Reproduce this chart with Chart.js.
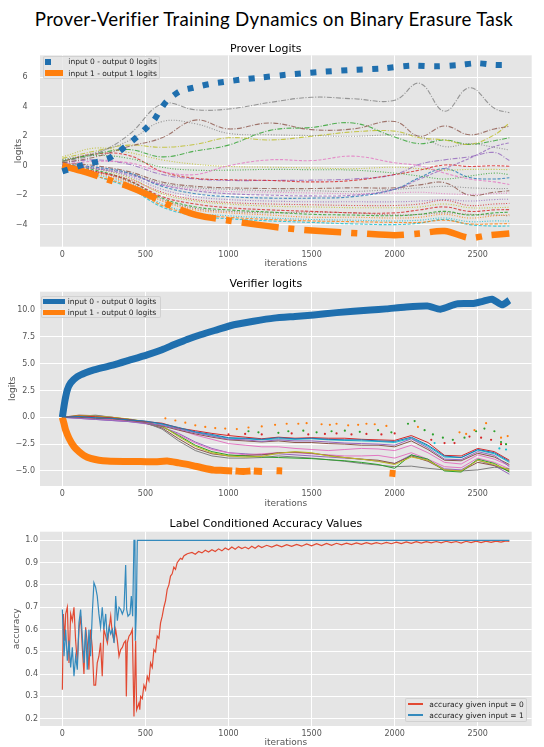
<!DOCTYPE html>
<html>
<head>
<meta charset="utf-8">
<script src="https://cdn.jsdelivr.net/npm/chart.js@4.4.1/dist/chart.umd.min.js"></script>
<style>
  body { margin: 0; width: 544px; height: 747px; overflow: hidden; position: relative; background: #fff; font-family: "DejaVu Sans", sans-serif; }
  canvas { position: absolute; left: 0; }
  #title { position: absolute; left: 2px; top: 8px; width: 544px; text-align: center; font: 18.7px/1.2 Lato, "Open Sans", sans-serif; color: #000; white-space: nowrap; }
  .legend { position: absolute; background: rgba(229,229,229,0.8); border: 1px solid rgba(204,204,204,0.8); border-radius: 2px; box-sizing: border-box; z-index: 2; }
  .swatch { position: absolute; z-index: 3; }
  .ltext { position: absolute; z-index: 3; font-size: 7.5px; line-height: 9px; color: #222; white-space: nowrap; }
</style>
</head>
<body>
<div id="title"><span id="titleText"></span></div>
<canvas id="prover" width="544" height="231" style="top:38px"></canvas>
<canvas id="verifier" width="544" height="233" style="top:276px"></canvas>
<canvas id="accuracy" width="544" height="232" style="top:516px"></canvas>
<script>
const MAIN_TITLE = 'Prover-Verifier Training Dynamics on Binary Erasure Task';
const ITER_TICKS = [0, 500, 1000, 1500, 2000, 2500];
const PROVER_Y_TICKS = [-4, -2, 0, 2, 4, 6];
const VERIFIER_Y_TICKS = [-5, -2.5, 0, 2.5, 5, 7.5, 10];
const ACC_Y_TICKS = [0.2, 0.3, 0.4, 0.5, 0.6, 0.7, 0.8, 0.9, 1.0];

const PROVER_LABELS = ['input 0 - output 0 logits', 'input 1 - output 1 logits'];
const VERIFIER_LABELS = ['input 0 - output 0 logits', 'input 1 - output 0 logits'];
const ACC_LABELS = ['accuracy given input = 0', 'accuracy given input = 1'];

// prover main series, [iteration, logit]
const PROVER_IN0_OUT0 = [[0,-0.38],[130,0.07],[270,0.45],[340,0.95],[390,1.4],[450,1.96],[500,2.5],[550,3.07],[590,3.8],[630,4.4],[710,5.07],[790,5.3],[890,5.56],[970,5.69],[1070,5.84],[1170,5.96],[1350,6.18],[1540,6.36],[1740,6.5],[1920,6.6],[2100,6.8],[2250,6.75],[2385,6.84],[2495,6.96],[2600,6.85],[2690,6.84]];
const PROVER_IN1_OUT1 = [[0,0.0],[130,-0.4],[270,-0.93],[390,-1.38],[530,-2.04],[670,-2.8],[810,-3.35],[990,-3.7],[1170,-4.0],[1350,-4.25],[1550,-4.44],[1800,-4.6],[2000,-4.72],[2150,-4.6],[2300,-4.44],[2450,-4.9],[2550,-4.75],[2690,-4.6]];

// prover thin lines, sampled on a common iteration grid
const PROVER_GRID = [0, 200, 400, 600, 800, 1000, 1250, 1500, 1750, 2000, 2150, 2300, 2450, 2600, 2690];
const PROVER_THIN = [
  [0.3, 0.8, 2.1, 4.2, 3.8, 3.85, 4.3, 4.65, 4.55, 4.45, 5.6, 3.7, 5.3, 3.9, 3.6],
  [0.2, 0.6, 1.3, 1.9, 3.1, 2.5, 2.9, 2.45, 2.5, 3.0, 2.0, 2.7, 2.1, 2.5, 2.67],
  [0.4, 0.9, 1.7, 3.0, 2.85, 2.2, 2.1, 2.05, 2.0, 2.1, 2.0, 1.3, 1.5, 1.25, 1.07],
  [0.5, 1.0, 1.4, 1.25, 1.45, 1.9, 1.75, 2.0, 2.3, 2.35, 1.9, 1.75, 1.45, 2.1, 2.9],
  [0.3, 0.8, 1.1, 0.6, 1.0, 1.4, 2.4, 2.6, 2.9, 1.95, 1.5, 1.75, 1.45, 1.7, 1.9],
  [0.1, 0.3, 0.2, -0.4, -0.6, 0.0, 0.4, 0.35, 0.65, 0.2, 0.0, -0.5, -0.9, -1.1, -1.27],
  [0.6, 1.2, 0.9, 0.4, 0.1, -0.05, -0.1, -0.15, -0.2, -0.1, -0.2, -0.3, -0.25, -0.25, -0.27],
  [0.4, 0.7, 0.5, -0.1, -0.3, -0.3, -0.25, -0.27, -0.3, -0.5, -0.7, -0.9, -0.7, -0.5, -0.6],
  [0.3, 0.8, 0.7, -0.4, -0.85, -0.95, -1.0, -1.1, -1.0, -0.6, -0.3, 0.05, -0.05, 0.0, -0.04],
  [0.2, 0.4, 0.1, -0.6, -0.9, -1.0, -1.0, -0.98, -0.9, -0.6, 0.1, 0.4, 0.6, 0.9, 0.35],
  [0.0, -0.2, -0.6, -1.3, -1.7, -1.9, -2.0, -2.05, -2.0, -1.6, -0.9, -0.2, 0.5, 1.3, 1.55],
  [0.1, -0.1, -0.5, -1.4, -1.9, -2.1, -2.2, -2.2, -2.1, -1.6, -0.8, -0.2, -0.8, -0.9, -0.82],
  [0.2, 0.0, -0.4, -1.1, -1.4, -1.5, -1.55, -1.55, -1.5, -1.5, -1.3, -1.15, -2.0, -1.8, -1.7],
  [0.0, -0.2, -0.5, -1.2, -1.5, -1.6, -1.7, -1.7, -1.75, -1.6, -1.5, -1.4, -1.5, -1.55, -1.55],
  [0.1, -0.1, -0.5, -1.3, -1.6, -1.75, -1.8, -1.85, -1.9, -1.85, -1.8, -1.9, -1.95, -1.9, -1.85],
  [0.1, -0.2, -0.7, -1.6, -2.1, -2.3, -2.4, -2.45, -2.45, -2.45, -2.4, -2.3, -2.4, -2.3, -2.27],
  [-0.1, -0.4, -0.9, -1.8, -2.3, -2.5, -2.6, -2.65, -2.7, -2.7, -2.6, -2.35, -2.7, -2.6, -2.56],
  [0.2, -0.2, -0.8, -1.9, -2.4, -2.6, -2.75, -2.8, -2.85, -2.85, -2.8, -2.6, -2.85, -2.85, -2.82],
  [0.0, -0.4, -1.0, -2.1, -2.6, -2.85, -3.0, -3.1, -3.2, -3.2, -3.0, -2.8, -3.1, -3.0, -2.98],
  [0.1, -0.3, -1.0, -2.2, -2.8, -3.0, -3.15, -3.3, -3.35, -3.4, -3.3, -3.1, -3.35, -3.2, -3.16],
  [-0.1, -0.5, -1.2, -2.4, -3.0, -3.2, -3.35, -3.5, -3.5, -3.55, -3.5, -3.3, -3.55, -3.4, -3.33],
  [0.0, -0.4, -1.1, -2.3, -2.9, -3.1, -3.2, -3.15, -3.2, -3.35, -3.3, -3.2, -3.3, -3.35, -3.4],
  [-0.2, -0.6, -1.3, -2.6, -3.2, -3.4, -3.55, -3.65, -3.7, -3.75, -3.7, -3.55, -3.8, -3.75, -3.76],
  [-0.2, -0.7, -1.4, -2.7, -3.3, -3.5, -3.65, -3.75, -3.8, -3.85, -3.85, -3.7, -3.95, -3.95, -3.93],
  [-0.1, -0.7, -1.5, -2.8, -3.4, -3.6, -3.75, -3.85, -3.95, -4.0, -3.9, -3.65, -4.0, -4.1, -4.09]
];

// verifier main series
const VERIFIER_IN0_OUT0 = [[0,0],[15,1.5],[30,2.55],[50,3.2],[90,3.79],[140,4.15],[190,4.41],[250,4.65],[310,4.88],[400,5.3],[510,5.82],[600,6.3],[670,6.75],[750,7.25],[832,7.69],[930,8.15],[1032,8.62],[1150,8.95],[1273,9.24],[1400,9.4],[1513,9.54],[1650,9.75],[1854,10.0],[1950,10.1],[2057,10.26],[2197,10.37],[2275,10.07],[2375,10.57],[2475,10.6],[2530,10.8],[2585,11.0],[2646,10.48],[2690,10.9]];
const VERIFIER_IN1_OUT0 = [[0,0],[10,-0.6],[20,-1.2],[40,-1.95],[70,-2.74],[100,-3.2],[130,-3.55],[170,-3.83],[220,-4.0],[270,-4.08],[370,-4.12],[471,-4.12],[560,-4.15],[631,-4.08],[700,-4.25],[772,-4.45],[840,-4.7],[912,-4.92],[970,-4.95],[1022,-5.0],[1032,null],[1042,-5.0],[1090,-5.05],[1132,-5.0],[1142,null],[1152,-5.0],[1202,-5.05],[1250,null],[1289,-4.98],[1323,-5.0],[1400,null],[1969,-5.2],[2005,-5.25]];

// verifier thin lines on a common grid
const VERIFIER_GRID = [0,100,200,300,400,500,600,700,800,900,1000,1100,1200,1300,1400,1500,1600,1700,1800,1900,2000,2100,2200,2300,2400,2500,2600,2690];
const VERIFIER_THIN = [
  [0.0,0.08,-0.05,-0.1,-0.25,-0.35,-0.6,-0.95,-1.35,-1.6,-1.9,-1.95,-2.05,-1.9,-2.0,-1.95,-2.05,-2.1,-2.1,-2.2,-2.25,-1.85,-2.6,-3.6,-3.75,-3.0,-3.3,-4.1],
  [0.0,0.12,0.05,-0.05,-0.2,-0.4,-0.55,-1.0,-1.25,-1.5,-1.7,-1.85,-2.0,-1.85,-1.95,-1.9,-1.95,-1.95,-2.05,-2.1,-2.15,-1.7,-2.35,-3.55,-3.6,-2.9,-3.2,-4.0],
  [0.0,-0.1,-0.2,-0.3,-0.4,-0.55,-0.75,-1.1,-1.45,-1.75,-2.05,-2.1,-2.25,-2.1,-2.2,-2.2,-2.3,-2.4,-2.45,-2.5,-2.6,-2.0,-2.85,-3.9,-3.95,-3.2,-3.55,-4.6],
  [0.0,0.0,-0.1,-0.15,-0.3,-0.5,-0.8,-1.2,-1.55,-1.85,-2.1,-2.2,-2.3,-2.2,-2.35,-2.35,-2.45,-2.5,-2.6,-2.6,-2.75,-2.2,-3.0,-4.0,-4.05,-3.35,-3.7,-4.4],
  [0.0,0.05,0.0,-0.1,-0.2,-0.4,-0.65,-1.05,-1.4,-1.7,-1.95,-2.0,-2.1,-2.0,-2.05,-2.0,-2.1,-2.15,-2.2,-2.25,-2.35,-1.95,-2.7,-3.7,-3.75,-3.05,-3.4,-4.2],
  [0.0,-0.05,-0.15,-0.25,-0.35,-0.5,-0.7,-1.15,-1.65,-2.05,-2.45,-2.6,-2.75,-2.75,-2.9,-3.0,-3.1,-3.0,-2.9,-2.95,-3.1,-2.6,-3.3,-4.2,-4.35,-3.5,-3.9,-4.5],
  [0.0,0.15,0.1,0.0,-0.15,-0.4,-0.8,-1.8,-2.7,-3.3,-3.6,-3.7,-3.65,-3.35,-3.2,-3.3,-3.6,-3.75,-3.9,-4.1,-4.4,-3.7,-4.0,-4.9,-5.0,-4.0,-4.4,-4.9],
  [0.0,0.1,0.05,-0.05,-0.2,-0.45,-0.85,-1.7,-2.6,-3.2,-3.5,-3.6,-3.7,-3.75,-3.8,-3.85,-3.95,-4.05,-4.2,-4.4,-4.75,-3.5,-3.9,-5.0,-5.1,-3.9,-4.3,-5.1],
  [0.0,0.1,0.2,0.0,-0.2,-0.5,-1.1,-2.2,-3.1,-3.6,-3.8,-3.8,-3.75,-3.6,-3.7,-3.8,-3.95,-4.1,-4.3,-4.45,-4.6,-4.55,-4.75,-4.9,-5.0,-4.9,-4.65,-4.8],
  [0.0,0.2,0.15,0.0,-0.2,-0.55,-1.0,-2.0,-2.9,-3.4,-3.6,-3.55,-3.5,-3.3,-3.25,-3.35,-3.55,-3.75,-3.9,-4.0,-4.3,-3.6,-4.1,-4.9,-5.0,-4.2,-4.5,-5.0],
  [0.0,0.0,-0.1,-0.2,-0.35,-0.55,-0.9,-1.6,-2.4,-3.0,-3.3,-3.5,-3.4,-3.3,-3.3,-3.4,-3.5,-3.6,-3.6,-3.55,-3.8,-3.3,-3.9,-4.6,-4.7,-3.8,-4.2,-4.8],
  [0.0,-0.1,-0.2,-0.3,-0.4,-0.6,-0.9,-1.5,-2.3,-2.9,-3.3,-3.4,-3.5,-3.4,-3.5,-3.6,-3.7,-3.8,-3.9,-4.1,-4.3,-3.5,-4.0,-4.8,-4.9,-4.0,-4.5,-5.3]
];
// verifier sparse marker series
const VERIFIER_DOTS_A = [[620,-0.1],[680,-0.3],[740,-0.5],[800,-0.75],[860,-0.9],[920,-1.0],[980,-1.05],[1050,-1.1],[1120,-0.95],[1200,-0.85],[1280,-0.7],[1350,-0.6],[1420,-0.6],[1470,-0.55],[1560,-0.65],[1610,-0.7],[1650,-0.6],[1720,-0.75],[1780,-0.7],[1830,-0.6],[1880,-0.65],[1950,-0.8],[2140,-0.9],[2390,-1.4],[2430,-1.55],[2480,-1.2],[2550,-0.55],[2640,-1.9],[2680,-1.75]];
const VERIFIER_DOTS_B = [[1120,-1.3],[1180,-1.4],[1300,-1.45],[1360,-1.3],[1450,-1.25],[1530,-1.4],[1620,-1.3],[1700,-1.25],[1790,-1.35],[1900,-1.2],[1980,-1.4],[2080,-0.6],[2120,-0.35],[2180,-1.2],[2230,-1.6],[2290,-1.9],[2350,-2.1],[2420,-1.9],[2490,-1.3],[2540,-1.05],[2600,-1.3],[2640,-2.3],[2670,-2.5]];
const VERIFIER_DOTS_C = [[1000,-1.6],[1100,-1.55],[1200,-1.6],[1380,-1.5],[1480,-1.6],[1580,-1.55],[1650,-1.5],[1740,-1.6],[1830,-1.55],[1920,-1.6],[2000,-1.5],[2220,-2.1],[2300,-2.4],[2360,-2.4],[2450,-1.8],[2520,-1.9],[2580,-2.1],[2640,-2.5]];
const VERIFIER_DOTS_D = [[2240,-2.4],[2630,-2.9],[2670,-3.0]];

// accuracy series
const ACC_INPUT0 = [[0,0.33],[6,0.67],[14,0.55],[20,0.67],[30,0.70],[40,0.45],[50,0.67],[60,0.64],[70,0.70],[80,0.55],[90,0.45],[100,0.60],[110,0.66],[120,0.52],[130,0.40],[140,0.61],[150,0.54],[160,0.42],[170,0.60],[180,0.52],[190,0.35],[200,0.35],[210,0.45],[220,0.48],[230,0.54],[240,0.39],[250,0.60],[261,0.57],[271,0.54],[281,0.60],[291,0.66],[301,0.58],[311,0.55],[321,0.60],[331,0.55],[341,0.48],[351,0.51],[361,0.52],[371,0.54],[381,0.55],[385,0.30],[391,0.54],[401,0.57],[411,0.58],[421,0.60],[431,0.21],[441,0.55],[447,0.24],
  [461,0.27],[466,0.24],[471,0.30],[481,0.29],[491,0.35],[501,0.33],[511,0.39],[521,0.37],[531,0.45],[541,0.43],[551,0.51],[561,0.50],[571,0.57],[581,0.56],[591,0.63],[601,0.66],[611,0.70],[621,0.73],[631,0.78],[641,0.80],[651,0.84],[661,0.85],[671,0.88],[681,0.87],[691,0.90],[701,0.91],[711,0.92],[721,0.915],[731,0.93],[741,0.935],[752,0.94],
  [780,0.946],[800,0.938],[820,0.95],[840,0.944],[860,0.956],[880,0.948],[900,0.958],[920,0.95],[940,0.962],[960,0.953],[980,0.966],[1000,0.958],[1020,0.97],[1040,0.96],[1060,0.972],[1080,0.963],[1100,0.97],[1120,0.962],[1140,0.974],[1160,0.965],[1180,0.976],[1200,0.968],[1230,0.978],[1260,0.97],[1290,0.98],[1320,0.971],[1350,0.981],[1380,0.973],[1410,0.982],[1440,0.974],[1470,0.984],[1500,0.976],[1530,0.985],[1560,0.977],[1590,0.986],[1620,0.978],[1650,0.987],[1680,0.98],[1710,0.988],[1740,0.981],[1770,0.989],[1800,0.982],[1830,0.99],[1860,0.983],[1890,0.99],[1920,0.984],[1950,0.991],[1980,0.985],[2010,0.992],[2040,0.986],[2070,0.993],[2100,0.987],[2130,0.994],[2160,0.988],[2190,0.994],[2220,0.989],[2250,0.995],[2280,0.989],[2310,0.996],[2340,0.99],[2370,0.995],[2400,0.988],[2430,0.996],[2460,0.99],[2490,0.997],[2520,0.99],[2550,0.997],[2580,0.991],[2610,0.997],[2640,0.992],[2670,0.998],[2690,0.996]];
const ACC_INPUT1 = [[0,0.69],[10,0.48],[20,0.60],[30,0.46],[40,0.55],[50,0.43],[60,0.52],[70,0.39],[80,0.48],[90,0.42],[100,0.63],[110,0.69],[120,0.57],[130,0.45],[140,0.60],[150,0.42],[160,0.60],[170,0.48],[180,0.67],[190,0.81],[200,0.79],[210,0.75],[220,0.67],[230,0.61],[240,0.70],[250,0.60],[261,0.67],[271,0.55],[281,0.61],[291,0.58],[301,0.60],[311,0.54],[321,0.75],[331,0.64],[341,0.70],[351,0.69],[361,0.67],[371,0.69],[381,0.89],[387,0.69],[395,0.66],[407,0.67],[415,0.75],[423,0.66],[431,1.0],[437,1.0],[439,0.55],[445,0.67],[451,1.0],[2690,1.0]];

const X_MIN = -134.5, X_MAX = 2824.5;
const DASH = { dashed: [3.2, 1.6], dotted: [1, 1.6], dashdot: [5, 1.6, 1, 1.6] };
const PROVER_THIN_STYLE = [
  ['#7f7f7f','dashdot'],['#8c564b','dashdot'],['#7f7f7f','dotted'],['#bcbd22','dashdot'],['#2ca02c','dashdot'],
  ['#e377c2','dashed'],['#bcbd22','dotted'],['#2ca02c','dotted'],['#d62728','dashed'],['#9467bd','dashdot'],
  ['#9467bd','dashed'],['#1f77b4','dashed'],['#8c564b','dashdot'],['#7f7f7f','dotted'],['#e377c2','dotted'],
  ['#9467bd','dotted'],['#d62728','dotted'],['#bcbd22','dotted'],['#d62728','dashed'],['#2ca02c','dashed'],
  ['#ff7f0e','dotted'],['#8c564b','dotted'],['#17becf','dotted'],['#ff7f0e','dashed'],['#17becf','dashed']
];
const VERIFIER_THIN_COLORS = ['#1f77b4','#d62728','#9467bd','#8c564b','#17becf','#e377c2','#bcbd22','#2ca02c','#7f7f7f','#8c564b','#e377c2','#9467bd'];

Chart.defaults.font.family = '"DejaVu Sans", sans-serif';
Chart.defaults.animation = false;

const plotBg = {
  id: 'plotBg',
  beforeDraw(chart) {
    const a = chart.chartArea, ctx = chart.ctx;
    ctx.save();
    ctx.fillStyle = '#e5e5e5';
    ctx.fillRect(a.left, a.top, a.right - a.left, a.bottom - a.top);
    ctx.restore();
  }
};

const pairs = arr => arr.map(p => ({ x: p[0], y: p[1] }));
const onGrid = (xs, ys) => xs.map((x, i) => ({ x, y: ys[i] }));
const minus = s => s.replace('-', '\u2212');

function options(cfg) {
  return {
    responsive: false,
    layout: { padding: { left: 0, right: 12.3, top: 0, bottom: 0 } },
    elements: { point: { radius: 0 } },
    plugins: {
      legend: { display: false },
      tooltip: { enabled: false },
      title: { display: true, text: cfg.title, color: '#000', font: { size: 11, weight: 'normal', lineHeight: 1 }, padding: { top: 3, bottom: cfg.titleGap } }
    },
    scales: {
      x: {
        type: 'linear', min: X_MIN, max: X_MAX,
        grid: { color: '#ffffff', lineWidth: 1, drawTicks: false },
        border: { display: false },
        afterBuildTicks: s => { s.ticks = ITER_TICKS.map(v => ({ value: v })); },
        ticks: { color: '#555', font: { size: 8 }, padding: 3, maxRotation: 0, callback: v => String(v) },
        title: { display: true, text: 'iterations', color: '#555', font: { size: 9 }, padding: 0 },
        afterFit: s => { s.height = cfg.xh; }
      },
      y: {
        min: cfg.yMin, max: cfg.yMax,
        grid: { color: '#ffffff', lineWidth: 1, drawTicks: false },
        border: { display: false },
        afterBuildTicks: s => { s.ticks = cfg.yTicks.map(v => ({ value: v })); },
        ticks: { color: '#555', font: { size: 8 }, padding: cfg.yPad, callback: cfg.fmt },
        title: { display: true, text: cfg.yTitle, color: '#555', font: { size: 9 }, padding: { top: cfg.yTitlePad, bottom: 0 } },
        afterFit: s => { s.width = 40; }
      }
    }
  };
}

// prover chart
const proverSets = [
  { label: PROVER_LABELS[0], data: pairs(PROVER_IN0_OUT0), borderColor: '#1f6fae', borderWidth: 6, borderDash: [6, 9.5], tension: 0.3 },
  { label: PROVER_LABELS[1], data: pairs(PROVER_IN1_OUT1), borderColor: '#ff7f0e', borderWidth: 6.5, borderDash: [37, 10, 6, 10], tension: 0.3 }
];
PROVER_THIN.forEach((ys, i) => {
  const st = PROVER_THIN_STYLE[i];
  proverSets.push({ label: 'p' + i, data: onGrid(PROVER_GRID, ys), borderColor: st[0] + 'cc', borderWidth: 1.1, borderDash: DASH[st[1]], tension: 0.4 });
});
new Chart(document.getElementById('prover'), {
  type: 'line',
  data: { datasets: proverSets },
  options: options({ title: 'Prover Logits', titleGap: 0.7, xh: 22.3, yMin: -5.5, yMax: 7.5, yTicks: PROVER_Y_TICKS, yPad: 12.5, yTitle: 'logits', yTitlePad: 13.6, fmt: v => minus(String(v)) }),
  plugins: [plotBg]
});

// verifier chart
const verifierSets = [
  { label: VERIFIER_LABELS[0], data: pairs(VERIFIER_IN0_OUT0), borderColor: '#1f6fae', borderWidth: 7, borderJoinStyle: 'round', tension: 0.2 },
  { label: VERIFIER_LABELS[1], data: pairs(VERIFIER_IN1_OUT0), borderColor: '#ff7f0e', borderWidth: 7, borderJoinStyle: 'round', tension: 0.2, spanGaps: false }
];
VERIFIER_THIN.forEach((ys, i) => {
  verifierSets.push({ label: 'v' + i, data: onGrid(VERIFIER_GRID, ys), borderColor: VERIFIER_THIN_COLORS[i], borderWidth: 1, tension: 0 });
});
[[VERIFIER_DOTS_A, '#ff7f0e'], [VERIFIER_DOTS_B, '#2ca02c'], [VERIFIER_DOTS_C, '#d62728'], [VERIFIER_DOTS_D, '#17becf']].forEach(([d, c], i) => {
  verifierSets.push({ label: 'd' + i, data: pairs(d), showLine: false, pointRadius: 1.1, pointBackgroundColor: c, pointBorderWidth: 0 });
});
new Chart(document.getElementById('verifier'), {
  type: 'line',
  data: { datasets: verifierSets },
  options: options({ title: 'Verifier logits', titleGap: 1.7, xh: 23, yMin: -6.4, yMax: 11.7, yTicks: VERIFIER_Y_TICKS, yPad: 5, yTitle: 'logits', yTitlePad: 7.1, fmt: v => minus(v.toFixed(1)) }),
  plugins: [plotBg]
});

// accuracy chart
new Chart(document.getElementById('accuracy'), {
  type: 'line',
  data: { datasets: [
    { label: ACC_LABELS[0], data: pairs(ACC_INPUT0), borderColor: '#e24a33', borderWidth: 1.2, order: 1, tension: 0 },
    { label: ACC_LABELS[1], data: pairs(ACC_INPUT1), borderColor: '#348abd', borderWidth: 1.2, order: 0, tension: 0 }
  ] },
  options: options({ title: 'Label Conditioned Accuracy Values', titleGap: 1.7, xh: 22, yMin: 0.167, yMax: 1.039, yTicks: ACC_Y_TICKS, yPad: 2, yTitle: 'accuracy', yTitlePad: 11.6, fmt: v => v.toFixed(1) }),
  plugins: [plotBg]
});

// html legends
function addLegend(frame, items) {
  const box = document.createElement('div');
  box.className = 'legend';
  Object.assign(box.style, { left: frame[0] + 'px', top: frame[1] + 'px', width: frame[2] + 'px', height: frame[3] + 'px' });
  document.body.appendChild(box);
  items.forEach(it => {
    const sw = document.createElement('div');
    sw.className = 'swatch';
    Object.assign(sw.style, { left: it.s[0] + 'px', top: it.s[1] + 'px', width: it.s[2] + 'px', height: it.s[3] + 'px', background: it.color });
    document.body.appendChild(sw);
    const tx = document.createElement('span');
    tx.className = 'ltext';
    tx.textContent = it.label;
    Object.assign(tx.style, { left: it.t[0] + 'px', top: (it.t[1] - 4.5) + 'px' });
    document.body.appendChild(tx);
  });
}
addLegend([43, 56, 117, 22.5], [
  { label: PROVER_LABELS[0], color: '#1f6fae', s: [45, 58.5, 6, 6.3], t: [68.3, 61.7] },
  { label: PROVER_LABELS[1], color: '#ff7f0e', s: [45, 70, 17.7, 5.7], t: [68.3, 73] }
]);
addLegend([41, 296, 120, 22], [
  { label: VERIFIER_LABELS[0], color: '#1f6fae', s: [43.3, 299, 21.7, 5.3], t: [67.7, 301.8] },
  { label: VERIFIER_LABELS[1], color: '#ff7f0e', s: [43.3, 310, 21.7, 5.3], t: [67.7, 312.8] }
]);
addLegend([405, 697.7, 121.7, 24], [
  { label: ACC_LABELS[0], color: '#e24a33', s: [408.3, 703.4, 15, 1.3], t: [429.3, 704] },
  { label: ACC_LABELS[1], color: '#348abd', s: [408.3, 714.4, 15, 1.3], t: [429.3, 715] }
]);

// main title, fitted to the reference width
const tt = document.getElementById('titleText');
tt.textContent = MAIN_TITLE;
const w = tt.getBoundingClientRect().width;
tt.style.letterSpacing = ((478 - w) / MAIN_TITLE.length) + 'px';
</script>
</body>
</html>
